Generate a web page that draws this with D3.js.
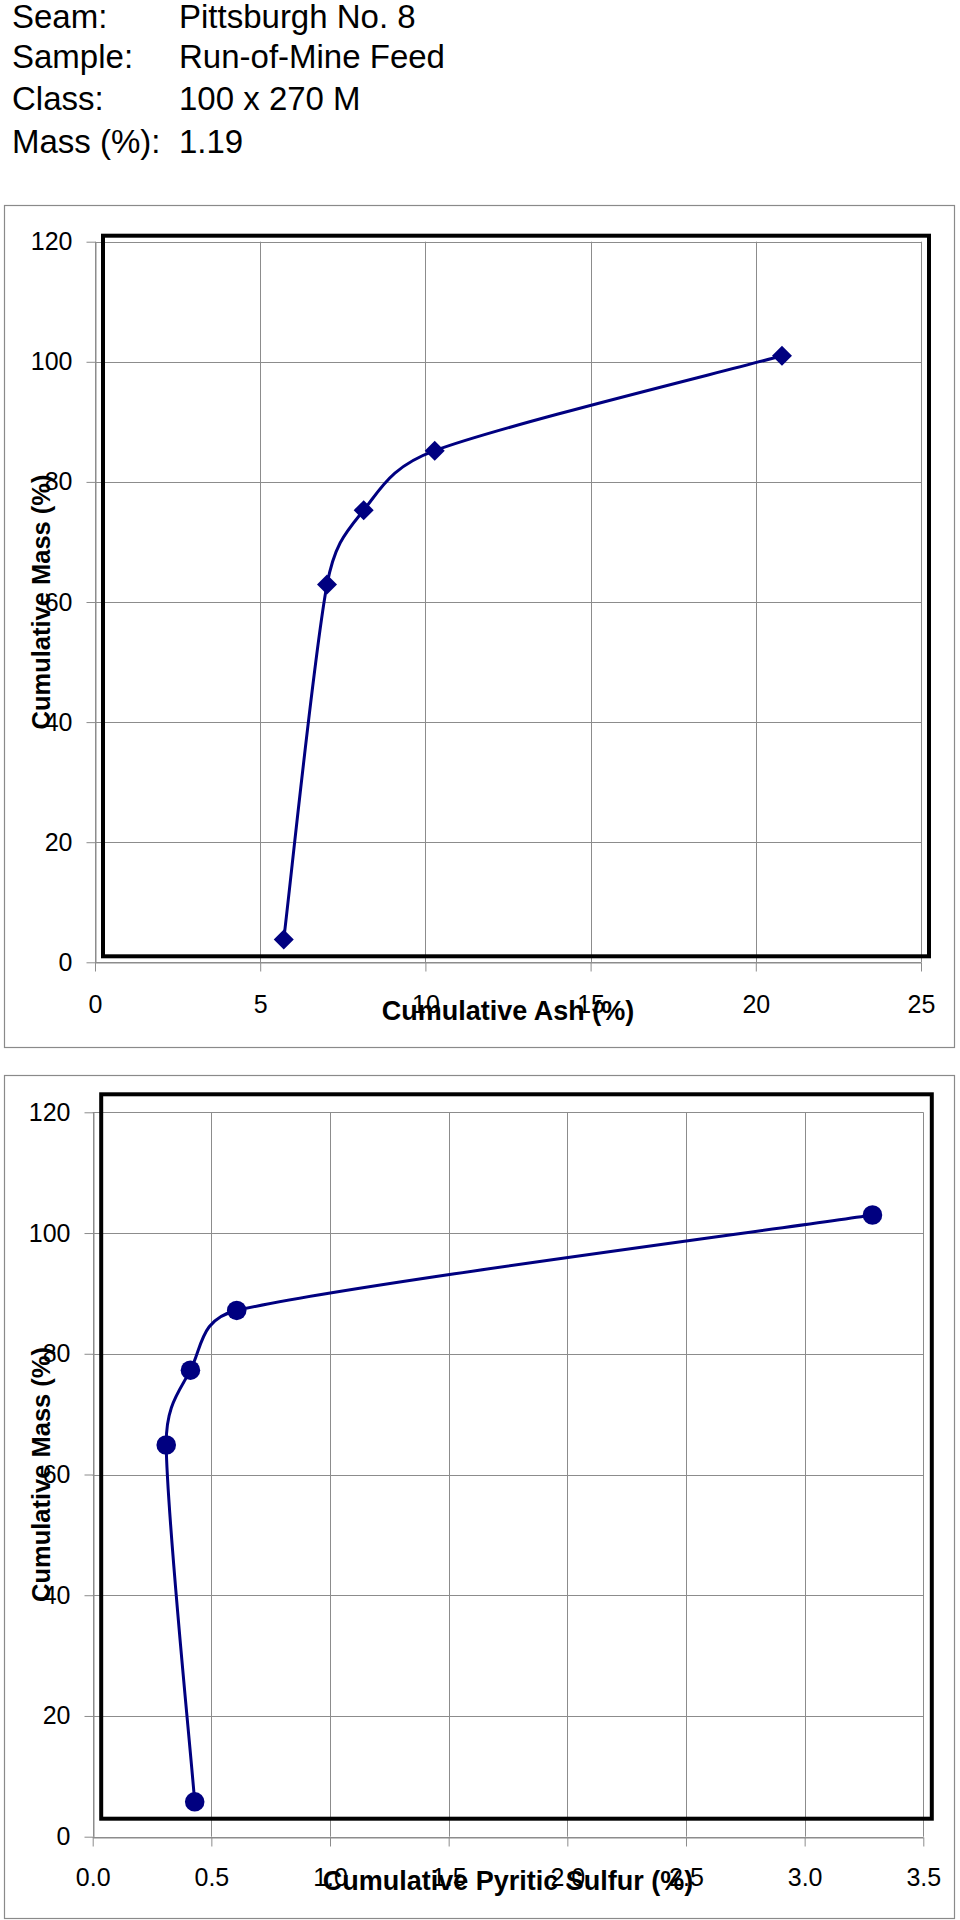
<!DOCTYPE html>
<html>
<head>
<meta charset="utf-8">
<script src="https://cdn.jsdelivr.net/npm/d3@7/dist/d3.min.js"></script>
<style>
  html, body { margin: 0; padding: 0; background: #fff; }
  svg { display: block; }
  text { font-family: "Liberation Sans", Arial, sans-serif; fill: #000; }
</style>
</head>
<body>
<svg id="chart" width="960" height="1920"></svg>
<script>
// ---------- data ----------
const headerLabels = ["Seam:", "Sample:", "Class:", "Mass (%):"];
const headerValues = ["Pittsburgh No. 8", "Run-of-Mine Feed", "100 x 270 M", "1.19"];

const cumulativeMass = [2.8, 61.9, 74.3, 84.2, 100.0];
const cumulativeAsh = [5.47, 6.78, 7.89, 10.04, 20.55];
const cumulativePyriticSulfur = [0.394, 0.274, 0.376, 0.571, 3.25];

const ashTicks = [0, 5, 10, 15, 20, 25];
const sulfurTicks = [0, 0.5, 1.0, 1.5, 2.0, 2.5, 3.0, 3.5];
const massTicks = [0, 20, 40, 60, 80, 100, 120];

const yAxisTitle = "Cumulative Mass (%)";
const ashTitle = "Cumulative Ash (%)";
const sulfurTitle = "Cumulative Pyritic Sulfur (%)";

// ---------- drawing ----------
const svg = d3.select("#chart");
const NAVY = "#000080";
const GRID = "#8c8c8c";

// header
const hdr = svg.append("g");
const headerBase = [28, 67.5, 110, 153];
headerLabels.forEach((t, i) => {
  hdr.append("text").attr("x", 12).attr("y", headerBase[i]).attr("font-size", 33).text(t);
  hdr.append("text").attr("x", 179).attr("y", headerBase[i]).attr("font-size", 33).text(headerValues[i]);
});

// spreadsheet-style smoothed line: cubic Bezier with 1/6 tangents, arms capped at half the segment
function smoothPath(pts) {
  const path = d3.path();
  const n = pts.length;
  path.moveTo(pts[0][0], pts[0][1]);
  const cap = (v, lim) => {
    const len = Math.hypot(v[0], v[1]);
    if (len > lim && len > 0) return [v[0] * lim / len, v[1] * lim / len];
    return v;
  };
  for (let i = 0; i < n - 1; i++) {
    const p0 = pts[Math.max(i - 1, 0)], p1 = pts[i], p2 = pts[i + 1], p3 = pts[Math.min(i + 2, n - 1)];
    const d12 = Math.hypot(p2[0] - p1[0], p2[1] - p1[1]);
    const a1 = cap([(p2[0] - p0[0]) / 6, (p2[1] - p0[1]) / 6], d12 / 2);
    const a2 = cap([(p3[0] - p1[0]) / 6, (p3[1] - p1[1]) / 6], d12 / 2);
    path.bezierCurveTo(p1[0] + a1[0], p1[1] + a1[1], p2[0] - a2[0], p2[1] - a2[1], p2[0], p2[1]);
  }
  return path.toString();
}

function drawChart(cfg) {
  const g = svg.append("g");
  // outer frame
  g.append("rect")
    .attr("x", cfg.frame[0] + 0.5).attr("y", cfg.frame[1] + 0.5)
    .attr("width", cfg.frame[2] - cfg.frame[0]).attr("height", cfg.frame[3] - cfg.frame[1])
    .attr("fill", "#fff").attr("stroke", "#8a8a8a").attr("stroke-width", 1.2);

  const x = d3.scaleLinear().domain(cfg.xDomain).range(cfg.xRange);
  const y = d3.scaleLinear().domain([0, 120]).range(cfg.yRange);

  // gridlines
  g.append("g").selectAll("line.v").data(cfg.xTicks).join("line")
    .attr("x1", d => Math.round(x(d)) + 0.5).attr("x2", d => Math.round(x(d)) + 0.5)
    .attr("y1", y(120)).attr("y2", y(0))
    .attr("stroke", GRID).attr("stroke-width", 1);
  g.append("g").selectAll("line.h").data(massTicks).join("line")
    .attr("y1", d => Math.round(y(d)) + 0.5).attr("y2", d => Math.round(y(d)) + 0.5)
    .attr("x1", x(cfg.xDomain[0])).attr("x2", x(cfg.xDomain[1]))
    .attr("stroke", GRID).attr("stroke-width", 1);

  // axes
  const yAxis = d3.axisLeft(y).tickValues(massTicks).tickSizeInner(9).tickSizeOuter(0).tickPadding(14)
    .tickFormat(d3.format("d"));
  const ya = g.append("g").attr("transform", `translate(${Math.round(x(cfg.xDomain[0])) + 0.5},0)`).call(yAxis);
  const xAxis = d3.axisBottom(x).tickValues(cfg.xTicks).tickSizeInner(9).tickSizeOuter(0).tickPadding(cfg.xPad)
    .tickFormat(cfg.xFormat);
  const xa = g.append("g").attr("transform", `translate(0,${Math.round(y(0)) + 0.5})`).call(xAxis);
  [ya, xa].forEach(a => {
    a.select(".domain").attr("stroke", GRID);
    a.selectAll(".tick line").attr("stroke", GRID);
    a.selectAll(".tick text").attr("font-size", 25)
      .attr("font-family", "'Liberation Sans', Arial, sans-serif").attr("fill", "#000");
  });

  // plot layer (shifted relative to the axes, as in the original)
  const p = g.append("g").attr("transform", `translate(${cfg.shift[0]},${cfg.shift[1]})`);
  p.append("rect")
    .attr("x", x(cfg.xDomain[0])).attr("y", y(120))
    .attr("width", x(cfg.xDomain[1]) - x(cfg.xDomain[0])).attr("height", y(0) - y(120))
    .attr("fill", "none").attr("stroke", "#000").attr("stroke-width", 4);

  const pts = cfg.xs.map((v, i) => [x(v), y(cumulativeMass[i])]);
  p.append("path")
    .attr("d", smoothPath(pts))
    .attr("fill", "none").attr("stroke", NAVY).attr("stroke-width", 3);
  p.selectAll("path.m").data(pts).join("path")
    .attr("transform", d => `translate(${d[0]},${d[1]}) rotate(${cfg.rotate})`)
    .attr("d", d3.symbol().type(cfg.symbol).size(cfg.symbolSize))
    .attr("fill", NAVY);

  // titles
  g.append("text")
    .attr("transform", `translate(${cfg.yTitleX},${(y(0) + y(120)) / 2}) rotate(-90)`)
    .attr("text-anchor", "middle").attr("dy", "0.35em")
    .attr("font-size", 25.5).attr("font-weight", "bold").text(yAxisTitle);
  g.append("text")
    .attr("x", (x(cfg.xDomain[0]) + x(cfg.xDomain[1])) / 2).attr("y", cfg.xTitleY)
    .attr("text-anchor", "middle")
    .attr("font-size", 27).attr("font-weight", "bold").text(cfg.xTitle);
}

drawChart({
  frame: [4, 205, 954, 1047],
  xDomain: [0, 25], xRange: [95, 921], yRange: [962.3, 241.7],
  xTicks: ashTicks, xFormat: d3.format("d"), xPad: 24,
  shift: [8, -6],
  xs: cumulativeAsh,
  symbol: d3.symbolSquare, symbolSize: 200, rotate: 45,
  yTitleX: 41, xTitleY: 1020, xTitle: ashTitle
});

drawChart({
  frame: [4, 1075, 954, 1918],
  xDomain: [0, 3.5], xRange: [92.7, 923.3], yRange: [1836.7, 1112.3],
  xTicks: sulfurTicks, xFormat: d3.format(".1f"), xPad: 22,
  shift: [8.5, -18],
  xs: cumulativePyriticSulfur,
  symbol: d3.symbolCircle, symbolSize: 300, rotate: 0,
  yTitleX: 41, xTitleY: 1890, xTitle: sulfurTitle
});
</script>
</body>
</html>
